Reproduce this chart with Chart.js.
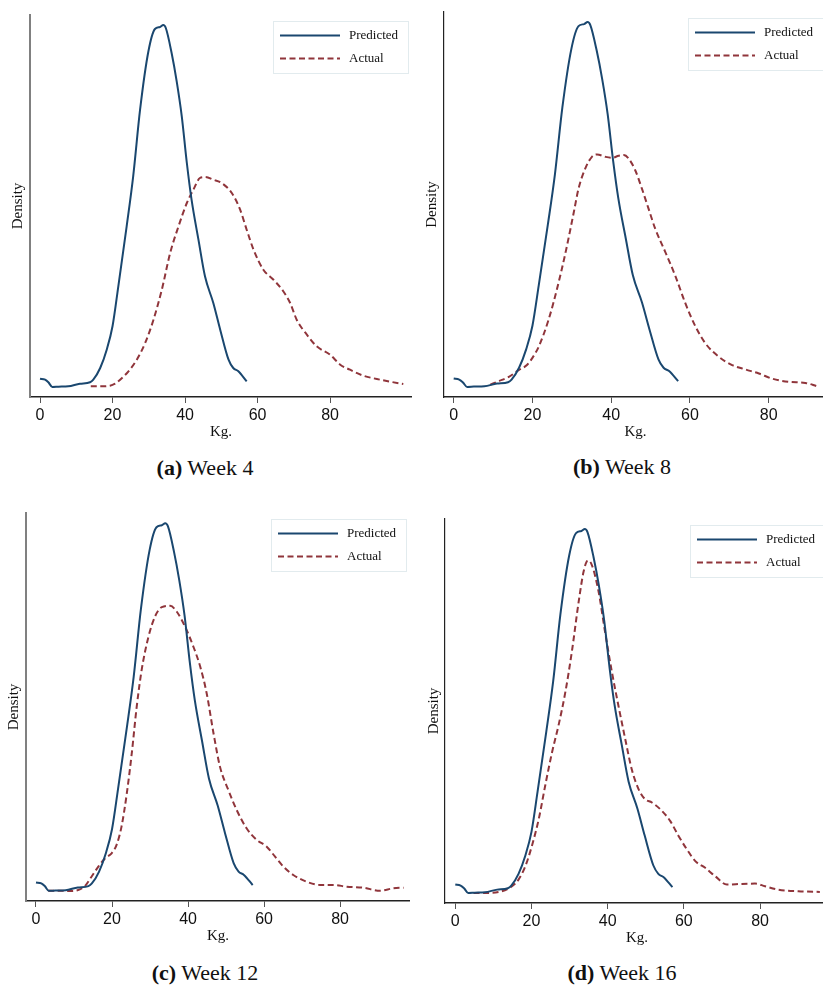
<!DOCTYPE html>
<html>
<head>
<meta charset="utf-8">
<script src="https://cdn.jsdelivr.net/npm/chart.js@4.4.1/dist/chart.umd.min.js"></script>
<style>
html, body { margin: 0; padding: 0; width: 823px; height: 985px; overflow: hidden; background: #fff; }
.panel { position: absolute; }
.caption {
  position: absolute;
  font-family: "Liberation Serif", "Times New Roman", serif;
  font-size: 22px;
  color: #111;
  transform: translate(-50%, -50%);
  white-space: nowrap;
}
</style>
</head>
<body>

<div class="panel" style="left:0;top:0"><canvas id="week4" width="412" height="445"></canvas></div>
<div class="panel" style="left:412px;top:0"><canvas id="week8" width="415" height="445"></canvas></div>
<div class="panel" style="left:0;top:500px"><canvas id="week12" width="410" height="449"></canvas></div>
<div class="panel" style="left:412px;top:500px"><canvas id="week16" width="417" height="451"></canvas></div>

<div class="caption" style="left:205px;top:468px"><b>(a)</b> Week 4</div>
<div class="caption" style="left:622px;top:467px"><b>(b)</b> Week 8</div>
<div class="caption" style="left:205px;top:973px"><b>(c)</b> Week 12</div>
<div class="caption" style="left:622px;top:973px"><b>(d)</b> Week 16</div>

<script>
// tick labels on the Kg. axis
const xTickValues = [0, 20, 40, 60, 80];

// predicted density (same curve in all four weeks)
const predKg = [0, 1.4, 2.3, 3.4, 5.1, 7.8, 11, 13.8, 14.7, 16.6, 18.4, 20, 21.6, 23.9, 25.7, 27.6, 29.9, 31.7, 33.1, 34, 34.7, 36.3, 37.7, 39.1, 40.5, 41.8, 43.7, 45.5, 47.8, 49.7, 52, 53.3, 54.7, 57];
const predDensity = [0.00183, 0.00173, 0.00147, 0.00100, 0.00103, 0.00107, 0.00133, 0.00147, 0.00173, 0.0029, 0.00473, 0.00707, 0.01107, 0.01707, 0.02207, 0.02873, 0.03457, 0.0368, 0.037, 0.0372, 0.0369, 0.0344, 0.03157, 0.02807, 0.0234, 0.01973, 0.01573, 0.01207, 0.0094, 0.00673, 0.00373, 0.0029, 0.00257, 0.00157];

// actual density, week 4
const week4Kg = [14, 16.6, 19.3, 20.7, 22.1, 24.4, 26.7, 29, 31.3, 33.6, 35.9, 38.2, 40.5, 42.3, 44.1, 45.5, 47.8, 50.1, 52.9, 55.2, 57, 58.9, 61.6, 64.4, 67.1, 69, 70.8, 73.6, 76.3, 80, 82.8, 85.5, 89.2, 92.9, 96.6, 100.2];
const week4Density = [0.00107, 0.00107, 0.00113, 0.00133, 0.00173, 0.00257, 0.00373, 0.0054, 0.00773, 0.01073, 0.0144, 0.01707, 0.0194, 0.02073, 0.0219, 0.022, 0.02173, 0.0214, 0.0204, 0.01873, 0.01673, 0.01473, 0.01273, 0.01173, 0.01057, 0.0094, 0.00773, 0.00623, 0.00507, 0.00423, 0.00323, 0.00273, 0.00213, 0.0018, 0.00153, 0.0013];

// actual density, week 8
const week8Kg = [9.3, 11.4, 14, 16.5, 18.6, 19.9, 21.6, 24.1, 26.2, 28.4, 30.5, 31.7, 33.4, 35.1, 36.4, 38.5, 40.2, 41.9, 43.2, 44.4, 46.1, 47.8, 49.5, 51.2, 53.8, 56.3, 58.8, 61.4, 63.9, 67.3, 70.7, 74.1, 77.5, 80.8, 85.1, 89.3, 92.3];
const week8Density = [0.00123, 0.00157, 0.002, 0.00267, 0.00317, 0.00383, 0.005, 0.00767, 0.01067, 0.01433, 0.01833, 0.02067, 0.02267, 0.02383, 0.02407, 0.02383, 0.02373, 0.02393, 0.024, 0.02367, 0.0225, 0.02067, 0.01867, 0.01667, 0.01433, 0.012, 0.00933, 0.007, 0.00533, 0.004, 0.00317, 0.00273, 0.00233, 0.00183, 0.0015, 0.0014, 0.00107];

// actual density, week 12
const week12Kg = [3.2, 5.9, 8.9, 11.1, 12.9, 14.6, 16.4, 18.2, 19.9, 21.2, 22.5, 23.9, 25.2, 26.5, 27.8, 29.6, 31.3, 33.1, 35.3, 37, 39.2, 41.4, 43.2, 44.9, 46.7, 48.4, 50.6, 52.8, 55.4, 58.1, 60.7, 62.9, 65.1, 67.7, 71.2, 74.7, 78.2, 81.8, 86.1, 90.5, 94, 96.7];
const week12Density = [0.00101, 0.00101, 0.00099, 0.00108, 0.00148, 0.00239, 0.00338, 0.00421, 0.0047, 0.00552, 0.00732, 0.01061, 0.01455, 0.01914, 0.02275, 0.02603, 0.028, 0.02893, 0.02906, 0.0285, 0.02702, 0.02505, 0.02308, 0.02046, 0.01652, 0.01323, 0.01093, 0.00896, 0.00716, 0.00601, 0.00535, 0.00436, 0.00338, 0.00256, 0.0019, 0.00158, 0.00158, 0.00141, 0.00131, 0.00101, 0.00125, 0.00131];

// actual density, week 16
const week16Kg = [4.8, 8.7, 12.2, 14.9, 16.6, 18.4, 20.1, 21.9, 23.6, 25.4, 27.1, 28.9, 30.6, 32.4, 33.7, 34.8, 35.8, 37.6, 39.3, 41.1, 42.8, 44.6, 46.3, 48.1, 49.8, 51.6, 53.8, 56.4, 58.6, 60.8, 63, 65.6, 68.2, 71.3, 75.2, 78.7, 81.3, 84.8, 90.1, 95.7];
const week16Density = [0.001, 0.001, 0.00117, 0.00167, 0.00233, 0.00367, 0.00567, 0.00833, 0.01167, 0.015, 0.01767, 0.021, 0.025, 0.03, 0.033, 0.03407, 0.03367, 0.031, 0.027, 0.023, 0.01967, 0.01633, 0.01333, 0.01133, 0.01033, 0.01, 0.00933, 0.00817, 0.00667, 0.00533, 0.00417, 0.0035, 0.00267, 0.00183, 0.0019, 0.00193, 0.00167, 0.00133, 0.00117, 0.0011];

const yMax = 0.0382;
const navy = '#1a476f';
const maroon = '#90353b';

// where each panel sits
const panels = [
  { id: 'week4',  kg: week4Kg,  dens: week4Density,  padTop: 15, yWidth: 30, titlePad: 9,  xMin: -2.76, xMax: 102.6, yAxisColor: '#808080', yAxisWidth: 2 },
  { id: 'week8',  kg: week8Kg,  dens: week8Density,  padTop: 12, yWidth: 32, titlePad: 11, xMin: -2.46, xMax: 94.8,  yAxisColor: '#222',    yAxisWidth: 1.2 },
  { id: 'week12', kg: week12Kg, dens: week12Density, padTop: 13, yWidth: 26, titlePad: 5,  xMin: -2.63, xMax: 98.4,  yAxisColor: '#808080', yAxisWidth: 2 },
  { id: 'week16', kg: week16Kg, dens: week16Density, padTop: 19, yWidth: 33, titlePad: 13, xMin: -2.7,  xMax: 98.1,  yAxisColor: '#222',    yAxisWidth: 1.2 }
];

// legend box drawn inside the plot, top right
const insetLegend = {
  id: 'insetLegend',
  afterDraw(chart) {
    const { ctx, chartArea } = chart;
    const w = 135, h = 52;
    const x0 = chartArea.right - 4 - w;
    const y0 = chartArea.top + 6;
    ctx.save();
    ctx.fillStyle = '#fff';
    ctx.fillRect(x0, y0, w, h);
    ctx.strokeStyle = '#e2ebee';
    ctx.lineWidth = 1;
    ctx.strokeRect(x0 + 0.5, y0 + 0.5, w, h);
    chart.data.datasets.forEach((ds, i) => {
      const y = y0 + 14.5 + i * 23;
      ctx.strokeStyle = ds.borderColor;
      ctx.lineWidth = ds.borderWidth;
      ctx.setLineDash(ds.borderDash || []);
      ctx.beginPath();
      ctx.moveTo(x0 + 7, y);
      ctx.lineTo(x0 + 67, y);
      ctx.stroke();
      ctx.setLineDash([]);
      ctx.fillStyle = '#111';
      ctx.font = '13px "Liberation Serif"';
      ctx.textBaseline = 'middle';
      ctx.fillText(ds.label, x0 + 76, y);
    });
    ctx.restore();
  }
};

function toPoints(xs, ys) {
  return xs.map((x, i) => ({ x: x, y: ys[i] }));
}

panels.forEach(p => {
  new Chart(document.getElementById(p.id), {
    type: 'line',
    data: {
      datasets: [
        {
          label: 'Predicted',
          data: toPoints(predKg, predDensity),
          borderColor: navy,
          borderWidth: 2,
          pointRadius: 0,
          cubicInterpolationMode: 'monotone',
          fill: false
        },
        {
          label: 'Actual',
          data: toPoints(p.kg, p.dens),
          borderColor: maroon,
          borderWidth: 2,
          borderDash: [6, 3.5],
          pointRadius: 0,
          cubicInterpolationMode: 'monotone',
          fill: false
        }
      ]
    },
    options: {
      responsive: false,
      animation: false,
      events: [],
      layout: { padding: { top: p.padTop, left: 0, right: 0, bottom: 0 } },
      plugins: { legend: { display: false }, tooltip: { enabled: false } },
      scales: {
        x: {
          type: 'linear',
          min: p.xMin,
          max: p.xMax,
          afterBuildTicks: s => { s.ticks = xTickValues.map(v => ({ value: v })); },
          afterFit: s => { s.height = 48; },
          grid: { display: true, drawOnChartArea: false, drawTicks: true, tickLength: 6, color: '#555' },
          border: { display: true, color: '#222', width: 1.5 },
          ticks: {
            padding: 3,
            color: '#111',
            font: { family: '"Liberation Sans", Arial, sans-serif', size: 16 }
          },
          title: {
            display: true,
            text: 'Kg.',
            color: '#111',
            padding: { top: 0, bottom: 4 },
            font: { family: '"Liberation Serif", "Times New Roman", serif', size: 15 }
          }
        },
        y: {
          min: 0,
          max: yMax,
          afterFit: s => { s.width = p.yWidth; },
          grid: { display: false },
          border: { display: true, color: p.yAxisColor, width: p.yAxisWidth },
          ticks: { display: false },
          title: {
            display: true,
            text: 'Density',
            color: '#111',
            padding: { top: p.titlePad, bottom: 0 },
            font: { family: '"Liberation Serif", "Times New Roman", serif', size: 15 }
          }
        }
      }
    },
    plugins: [insetLegend]
  });
});
</script>
</body>
</html>
